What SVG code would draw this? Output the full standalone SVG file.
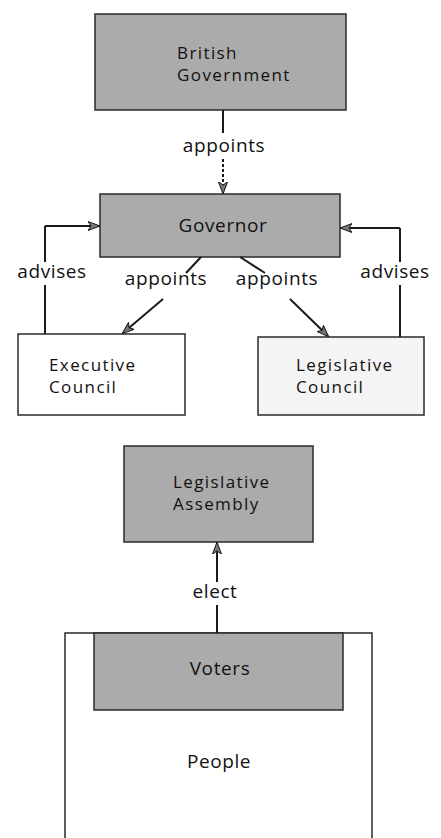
<svg xmlns="http://www.w3.org/2000/svg" width="441" height="838" viewBox="0 0 441 838">
<style>
.box{stroke:#2a2a2a;stroke-width:1.5}
.dark{fill:#ababab}
.light{fill:#f4f4f4}
.white{fill:#ffffff}
.t{font-family:"Open Sans","DejaVu Sans",sans-serif;font-size:19px;fill:#111;letter-spacing:0.6px}
.b{font-size:17px;letter-spacing:1.4px}
.c{text-anchor:middle}
.ln{stroke:#1a1a1a;stroke-width:2;fill:none}
</style>
<defs>
<marker id="ah" viewBox="0 0 12 10" refX="11" refY="5" markerWidth="12" markerHeight="10" markerUnits="userSpaceOnUse" orient="auto">
<path d="M0,0.5 L12,5 L0,9.5 L3,5 Z" fill="#777" stroke="#1a1a1a" stroke-width="1"/>
</marker>
</defs>
<rect width="441" height="838" fill="#ffffff"/>

<g id="british-government">
<rect class="box dark" x="95" y="14" width="251" height="96"/>
<text class="t b" x="177" y="59">British</text>
<text class="t b" x="177" y="81">Government</text>
</g>

<g id="governor">
<rect class="box dark" x="100" y="194" width="240" height="63"/>
<text class="t c" x="223" y="232">Governor</text>
</g>

<g id="executive-council">
<rect class="box white" x="18" y="334" width="167" height="81"/>
<text class="t b" x="49" y="371">Executive</text>
<text class="t b" x="49" y="393">Council</text>
</g>

<g id="legislative-council">
<rect class="box light" x="258" y="337" width="166" height="78"/>
<text class="t b" x="296" y="371">Legislative</text>
<text class="t b" x="296" y="393">Council</text>
</g>

<g id="legislative-assembly">
<rect class="box dark" x="124" y="446" width="189" height="96"/>
<text class="t b" x="173" y="488">Legislative</text>
<text class="t b" x="173" y="510">Assembly</text>
</g>

<g id="people">
<path class="box" d="M65,838 L65,633 L372,633 L372,838" fill="#ffffff"/>
<text class="t c" x="219" y="768">People</text>
</g>

<g id="voters">
<rect class="box dark" x="94" y="633" width="249" height="77"/>
<text class="t c" x="220" y="675">Voters</text>
</g>

<g id="connectors">
<line class="ln" x1="223" y1="110" x2="223" y2="133"/>
<text class="t c" x="224" y="152">appoints</text>
<line class="ln" x1="223" y1="159" x2="223" y2="193" stroke-dasharray="3 2" marker-end="url(#ah)"/>

<line class="ln" x1="45" y1="262" x2="45" y2="226"/>
<polyline class="ln" points="45,226 99,226" marker-end="url(#ah)"/>
<text class="t c" x="52" y="278">advises</text>
<line class="ln" x1="45" y1="285" x2="45" y2="334"/>

<line class="ln" x1="400" y1="262" x2="400" y2="228"/>
<polyline class="ln" points="400,228 341,228" marker-end="url(#ah)"/>
<text class="t c" x="395" y="278">advises</text>
<line class="ln" x1="400" y1="285" x2="400" y2="337"/>

<line class="ln" x1="201" y1="257" x2="186" y2="273"/>
<text class="t c" x="166" y="285">appoints</text>
<line class="ln" x1="163" y1="299" x2="123" y2="333" marker-end="url(#ah)"/>

<line class="ln" x1="240" y1="257" x2="265" y2="273"/>
<text class="t c" x="277" y="285">appoints</text>
<line class="ln" x1="290" y1="299" x2="328" y2="336" marker-end="url(#ah)"/>

<line class="ln" x1="217" y1="582" x2="217" y2="543" marker-end="url(#ah)"/>
<text class="t c" x="215" y="598">elect</text>
<line class="ln" x1="217" y1="605" x2="217" y2="633"/>
</g>
</svg>
